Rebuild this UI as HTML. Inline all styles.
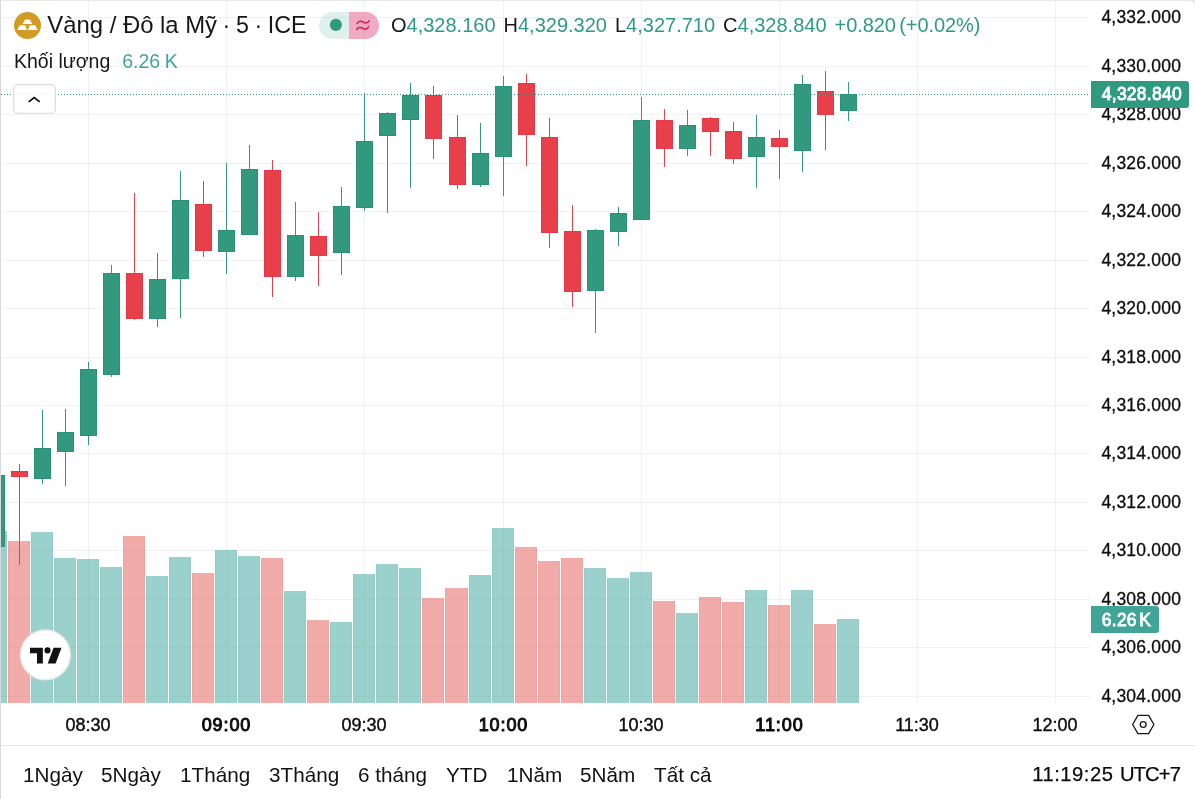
<!DOCTYPE html>
<html lang="vi"><head><meta charset="utf-8"><title>Vàng / Đô la Mỹ</title>
<style>
html,body{margin:0;padding:0;background:#ececed;}
body{width:1195px;height:799px;position:relative;overflow:hidden;font-family:"Liberation Sans",sans-serif;color:#131722;}
.chart{position:absolute;left:0;top:0;}
.page{position:absolute;left:1px;top:1px;width:1194px;height:798px;background:#fff;border-top-right-radius:6px;}
.bl{position:absolute;left:0;top:0;width:1px;height:799px;background:#d8d9dc;}
.bt{position:absolute;left:1px;top:0;width:1194px;height:1px;background:#e9e9ea;}
.pl{position:absolute;left:1080px;width:101.1px;text-align:right;font-size:17.5px;letter-spacing:0.2px;line-height:22px;height:22px;white-space:nowrap;color:#0c0c0c;-webkit-text-stroke:0.3px #0c0c0c;}
.tl{position:absolute;top:713.7px;width:80px;text-align:center;font-size:18px;line-height:22px;white-space:nowrap;color:#0c0c0c;-webkit-text-stroke:0.4px #0c0c0c;}
.tl.b{font-weight:normal;letter-spacing:0.9px;text-indent:0.9px;-webkit-text-stroke:1px #0c0c0c;}
.axisbg{position:absolute;left:1090px;top:8px;width:105px;height:737px;background:#fff;}
.tag{position:absolute;left:1091px;color:#fff;font-weight:normal;-webkit-text-stroke:0.8px #fff;letter-spacing:0.25px;font-size:17.5px;line-height:27px;height:27px;border-radius:0 3px 3px 0;white-space:nowrap;box-sizing:border-box;padding-left:10.8px;}
.sep{position:absolute;left:1px;top:745px;width:1194px;height:1px;background:#e6e6e8;}
.tb{position:absolute;top:763px;color:#111;font-size:20.7px;line-height:24px;white-space:nowrap;}
.hd{position:absolute;white-space:nowrap;}
.ts{font-size:20.2px;color:#0c0c0c;-webkit-text-stroke:0.25px #0c0c0c;}
.g{color:#2f9a85;}
</style></head><body>
<div class="page"></div>
<svg class="chart" width="1195" height="799" viewBox="0 0 1195 799" shape-rendering="crispEdges">
<rect x="1" y="17" width="1089" height="1" fill="#000" fill-opacity="0.052"/>
<rect x="1" y="66" width="1089" height="1" fill="#000" fill-opacity="0.052"/>
<rect x="1" y="114" width="1089" height="1" fill="#000" fill-opacity="0.052"/>
<rect x="1" y="163" width="1089" height="1" fill="#000" fill-opacity="0.052"/>
<rect x="1" y="211" width="1089" height="1" fill="#000" fill-opacity="0.052"/>
<rect x="1" y="260" width="1089" height="1" fill="#000" fill-opacity="0.052"/>
<rect x="1" y="308" width="1089" height="1" fill="#000" fill-opacity="0.052"/>
<rect x="1" y="357" width="1089" height="1" fill="#000" fill-opacity="0.052"/>
<rect x="1" y="405" width="1089" height="1" fill="#000" fill-opacity="0.052"/>
<rect x="1" y="453" width="1089" height="1" fill="#000" fill-opacity="0.052"/>
<rect x="1" y="502" width="1089" height="1" fill="#000" fill-opacity="0.052"/>
<rect x="1" y="550" width="1089" height="1" fill="#000" fill-opacity="0.052"/>
<rect x="1" y="599" width="1089" height="1" fill="#000" fill-opacity="0.052"/>
<rect x="1" y="647" width="1089" height="1" fill="#000" fill-opacity="0.052"/>
<rect x="1" y="696" width="1089" height="1" fill="#000" fill-opacity="0.052"/>
<rect x="88" y="1" width="1" height="702" fill="#000" fill-opacity="0.052"/>
<rect x="226" y="1" width="1" height="702" fill="#000" fill-opacity="0.052"/>
<rect x="364" y="1" width="1" height="702" fill="#000" fill-opacity="0.052"/>
<rect x="503" y="1" width="1" height="702" fill="#000" fill-opacity="0.052"/>
<rect x="641" y="1" width="1" height="702" fill="#000" fill-opacity="0.052"/>
<rect x="779" y="1" width="1" height="702" fill="#000" fill-opacity="0.052"/>
<rect x="917" y="1" width="1" height="702" fill="#000" fill-opacity="0.052"/>
<rect x="1055" y="1" width="1" height="702" fill="#000" fill-opacity="0.052"/>
<rect x="1" y="531" width="6" height="172" fill="#37a399" fill-opacity="0.5"/>
<rect x="6" y="531" width="1" height="172" fill="#1f8f84" fill-opacity="0.055"/>
<rect x="8" y="541" width="22" height="162" fill="#e35753" fill-opacity="0.5"/>
<rect x="8" y="541" width="1" height="162" fill="#d9393a" fill-opacity="0.055"/>
<rect x="29" y="541" width="1" height="162" fill="#d9393a" fill-opacity="0.055"/>
<rect x="31" y="532" width="22" height="171" fill="#37a399" fill-opacity="0.5"/>
<rect x="31" y="532" width="1" height="171" fill="#1f8f84" fill-opacity="0.055"/>
<rect x="52" y="532" width="1" height="171" fill="#1f8f84" fill-opacity="0.055"/>
<rect x="54" y="558" width="22" height="145" fill="#37a399" fill-opacity="0.5"/>
<rect x="54" y="558" width="1" height="145" fill="#1f8f84" fill-opacity="0.055"/>
<rect x="75" y="558" width="1" height="145" fill="#1f8f84" fill-opacity="0.055"/>
<rect x="77" y="559" width="22" height="144" fill="#37a399" fill-opacity="0.5"/>
<rect x="77" y="559" width="1" height="144" fill="#1f8f84" fill-opacity="0.055"/>
<rect x="98" y="559" width="1" height="144" fill="#1f8f84" fill-opacity="0.055"/>
<rect x="100" y="567" width="22" height="136" fill="#37a399" fill-opacity="0.5"/>
<rect x="100" y="567" width="1" height="136" fill="#1f8f84" fill-opacity="0.055"/>
<rect x="121" y="567" width="1" height="136" fill="#1f8f84" fill-opacity="0.055"/>
<rect x="123" y="536" width="22" height="167" fill="#e35753" fill-opacity="0.5"/>
<rect x="123" y="536" width="1" height="167" fill="#d9393a" fill-opacity="0.055"/>
<rect x="144" y="536" width="1" height="167" fill="#d9393a" fill-opacity="0.055"/>
<rect x="146" y="576" width="22" height="127" fill="#37a399" fill-opacity="0.5"/>
<rect x="146" y="576" width="1" height="127" fill="#1f8f84" fill-opacity="0.055"/>
<rect x="167" y="576" width="1" height="127" fill="#1f8f84" fill-opacity="0.055"/>
<rect x="169" y="557" width="22" height="146" fill="#37a399" fill-opacity="0.5"/>
<rect x="169" y="557" width="1" height="146" fill="#1f8f84" fill-opacity="0.055"/>
<rect x="190" y="557" width="1" height="146" fill="#1f8f84" fill-opacity="0.055"/>
<rect x="192" y="573" width="22" height="130" fill="#e35753" fill-opacity="0.5"/>
<rect x="192" y="573" width="1" height="130" fill="#d9393a" fill-opacity="0.055"/>
<rect x="213" y="573" width="1" height="130" fill="#d9393a" fill-opacity="0.055"/>
<rect x="215" y="550" width="22" height="153" fill="#37a399" fill-opacity="0.5"/>
<rect x="215" y="550" width="1" height="153" fill="#1f8f84" fill-opacity="0.055"/>
<rect x="236" y="550" width="1" height="153" fill="#1f8f84" fill-opacity="0.055"/>
<rect x="238" y="556" width="22" height="147" fill="#37a399" fill-opacity="0.5"/>
<rect x="238" y="556" width="1" height="147" fill="#1f8f84" fill-opacity="0.055"/>
<rect x="259" y="556" width="1" height="147" fill="#1f8f84" fill-opacity="0.055"/>
<rect x="261" y="558" width="22" height="145" fill="#e35753" fill-opacity="0.5"/>
<rect x="261" y="558" width="1" height="145" fill="#d9393a" fill-opacity="0.055"/>
<rect x="282" y="558" width="1" height="145" fill="#d9393a" fill-opacity="0.055"/>
<rect x="284" y="591" width="22" height="112" fill="#37a399" fill-opacity="0.5"/>
<rect x="284" y="591" width="1" height="112" fill="#1f8f84" fill-opacity="0.055"/>
<rect x="305" y="591" width="1" height="112" fill="#1f8f84" fill-opacity="0.055"/>
<rect x="307" y="620" width="22" height="83" fill="#e35753" fill-opacity="0.5"/>
<rect x="307" y="620" width="1" height="83" fill="#d9393a" fill-opacity="0.055"/>
<rect x="328" y="620" width="1" height="83" fill="#d9393a" fill-opacity="0.055"/>
<rect x="330" y="622" width="22" height="81" fill="#37a399" fill-opacity="0.5"/>
<rect x="330" y="622" width="1" height="81" fill="#1f8f84" fill-opacity="0.055"/>
<rect x="351" y="622" width="1" height="81" fill="#1f8f84" fill-opacity="0.055"/>
<rect x="353" y="574" width="22" height="129" fill="#37a399" fill-opacity="0.5"/>
<rect x="353" y="574" width="1" height="129" fill="#1f8f84" fill-opacity="0.055"/>
<rect x="374" y="574" width="1" height="129" fill="#1f8f84" fill-opacity="0.055"/>
<rect x="376" y="564" width="22" height="139" fill="#37a399" fill-opacity="0.5"/>
<rect x="376" y="564" width="1" height="139" fill="#1f8f84" fill-opacity="0.055"/>
<rect x="397" y="564" width="1" height="139" fill="#1f8f84" fill-opacity="0.055"/>
<rect x="399" y="568" width="22" height="135" fill="#37a399" fill-opacity="0.5"/>
<rect x="399" y="568" width="1" height="135" fill="#1f8f84" fill-opacity="0.055"/>
<rect x="420" y="568" width="1" height="135" fill="#1f8f84" fill-opacity="0.055"/>
<rect x="422" y="598" width="22" height="105" fill="#e35753" fill-opacity="0.5"/>
<rect x="422" y="598" width="1" height="105" fill="#d9393a" fill-opacity="0.055"/>
<rect x="443" y="598" width="1" height="105" fill="#d9393a" fill-opacity="0.055"/>
<rect x="445" y="588" width="23" height="115" fill="#e35753" fill-opacity="0.5"/>
<rect x="445" y="588" width="1" height="115" fill="#d9393a" fill-opacity="0.055"/>
<rect x="467" y="588" width="1" height="115" fill="#d9393a" fill-opacity="0.055"/>
<rect x="469" y="575" width="22" height="128" fill="#37a399" fill-opacity="0.5"/>
<rect x="469" y="575" width="1" height="128" fill="#1f8f84" fill-opacity="0.055"/>
<rect x="490" y="575" width="1" height="128" fill="#1f8f84" fill-opacity="0.055"/>
<rect x="492" y="528" width="22" height="175" fill="#37a399" fill-opacity="0.5"/>
<rect x="492" y="528" width="1" height="175" fill="#1f8f84" fill-opacity="0.055"/>
<rect x="513" y="528" width="1" height="175" fill="#1f8f84" fill-opacity="0.055"/>
<rect x="515" y="547" width="22" height="156" fill="#e35753" fill-opacity="0.5"/>
<rect x="515" y="547" width="1" height="156" fill="#d9393a" fill-opacity="0.055"/>
<rect x="536" y="547" width="1" height="156" fill="#d9393a" fill-opacity="0.055"/>
<rect x="538" y="561" width="22" height="142" fill="#e35753" fill-opacity="0.5"/>
<rect x="538" y="561" width="1" height="142" fill="#d9393a" fill-opacity="0.055"/>
<rect x="559" y="561" width="1" height="142" fill="#d9393a" fill-opacity="0.055"/>
<rect x="561" y="558" width="22" height="145" fill="#e35753" fill-opacity="0.5"/>
<rect x="561" y="558" width="1" height="145" fill="#d9393a" fill-opacity="0.055"/>
<rect x="582" y="558" width="1" height="145" fill="#d9393a" fill-opacity="0.055"/>
<rect x="584" y="568" width="22" height="135" fill="#37a399" fill-opacity="0.5"/>
<rect x="584" y="568" width="1" height="135" fill="#1f8f84" fill-opacity="0.055"/>
<rect x="605" y="568" width="1" height="135" fill="#1f8f84" fill-opacity="0.055"/>
<rect x="607" y="578" width="22" height="125" fill="#37a399" fill-opacity="0.5"/>
<rect x="607" y="578" width="1" height="125" fill="#1f8f84" fill-opacity="0.055"/>
<rect x="628" y="578" width="1" height="125" fill="#1f8f84" fill-opacity="0.055"/>
<rect x="630" y="572" width="22" height="131" fill="#37a399" fill-opacity="0.5"/>
<rect x="630" y="572" width="1" height="131" fill="#1f8f84" fill-opacity="0.055"/>
<rect x="651" y="572" width="1" height="131" fill="#1f8f84" fill-opacity="0.055"/>
<rect x="653" y="601" width="22" height="102" fill="#e35753" fill-opacity="0.5"/>
<rect x="653" y="601" width="1" height="102" fill="#d9393a" fill-opacity="0.055"/>
<rect x="674" y="601" width="1" height="102" fill="#d9393a" fill-opacity="0.055"/>
<rect x="676" y="613" width="22" height="90" fill="#37a399" fill-opacity="0.5"/>
<rect x="676" y="613" width="1" height="90" fill="#1f8f84" fill-opacity="0.055"/>
<rect x="697" y="613" width="1" height="90" fill="#1f8f84" fill-opacity="0.055"/>
<rect x="699" y="597" width="22" height="106" fill="#e35753" fill-opacity="0.5"/>
<rect x="699" y="597" width="1" height="106" fill="#d9393a" fill-opacity="0.055"/>
<rect x="720" y="597" width="1" height="106" fill="#d9393a" fill-opacity="0.055"/>
<rect x="722" y="602" width="22" height="101" fill="#e35753" fill-opacity="0.5"/>
<rect x="722" y="602" width="1" height="101" fill="#d9393a" fill-opacity="0.055"/>
<rect x="743" y="602" width="1" height="101" fill="#d9393a" fill-opacity="0.055"/>
<rect x="745" y="590" width="22" height="113" fill="#37a399" fill-opacity="0.5"/>
<rect x="745" y="590" width="1" height="113" fill="#1f8f84" fill-opacity="0.055"/>
<rect x="766" y="590" width="1" height="113" fill="#1f8f84" fill-opacity="0.055"/>
<rect x="768" y="605" width="22" height="98" fill="#e35753" fill-opacity="0.5"/>
<rect x="768" y="605" width="1" height="98" fill="#d9393a" fill-opacity="0.055"/>
<rect x="789" y="605" width="1" height="98" fill="#d9393a" fill-opacity="0.055"/>
<rect x="791" y="590" width="22" height="113" fill="#37a399" fill-opacity="0.5"/>
<rect x="791" y="590" width="1" height="113" fill="#1f8f84" fill-opacity="0.055"/>
<rect x="812" y="590" width="1" height="113" fill="#1f8f84" fill-opacity="0.055"/>
<rect x="814" y="624" width="22" height="79" fill="#e35753" fill-opacity="0.5"/>
<rect x="814" y="624" width="1" height="79" fill="#d9393a" fill-opacity="0.055"/>
<rect x="835" y="624" width="1" height="79" fill="#d9393a" fill-opacity="0.055"/>
<rect x="837" y="619" width="22" height="84" fill="#37a399" fill-opacity="0.5"/>
<rect x="837" y="619" width="1" height="84" fill="#1f8f84" fill-opacity="0.055"/>
<rect x="858" y="619" width="1" height="84" fill="#1f8f84" fill-opacity="0.055"/>
<rect x="1" y="475" width="4" height="72" fill="#279278"/>
<rect x="1" y="476" width="3" height="70" fill="#32997f"/>
<rect x="19" y="464" width="1" height="101" fill="#e7404a"/>
<rect x="11" y="471" width="17" height="6" fill="#e43844"/>
<rect x="12" y="472" width="15" height="4" fill="#e7404a"/>
<rect x="42" y="410" width="1" height="74" fill="#32997f"/>
<rect x="34" y="448" width="17" height="31" fill="#279278"/>
<rect x="35" y="449" width="15" height="29" fill="#32997f"/>
<rect x="65" y="409" width="1" height="77" fill="#32997f"/>
<rect x="57" y="432" width="17" height="20" fill="#279278"/>
<rect x="58" y="433" width="15" height="18" fill="#32997f"/>
<rect x="88" y="362" width="1" height="83" fill="#32997f"/>
<rect x="80" y="369" width="17" height="67" fill="#279278"/>
<rect x="81" y="370" width="15" height="65" fill="#32997f"/>
<rect x="111" y="265" width="1" height="112" fill="#32997f"/>
<rect x="103" y="273" width="17" height="102" fill="#279278"/>
<rect x="104" y="274" width="15" height="100" fill="#32997f"/>
<rect x="134" y="193" width="1" height="127" fill="#e7404a"/>
<rect x="126" y="273" width="17" height="46" fill="#e43844"/>
<rect x="127" y="274" width="15" height="44" fill="#e7404a"/>
<rect x="157" y="253" width="1" height="74" fill="#32997f"/>
<rect x="149" y="279" width="17" height="40" fill="#279278"/>
<rect x="150" y="280" width="15" height="38" fill="#32997f"/>
<rect x="180" y="171" width="1" height="147" fill="#32997f"/>
<rect x="172" y="200" width="17" height="79" fill="#279278"/>
<rect x="173" y="201" width="15" height="77" fill="#32997f"/>
<rect x="203" y="181" width="1" height="76" fill="#e7404a"/>
<rect x="195" y="204" width="17" height="47" fill="#e43844"/>
<rect x="196" y="205" width="15" height="45" fill="#e7404a"/>
<rect x="226" y="163" width="1" height="111" fill="#32997f"/>
<rect x="218" y="230" width="17" height="22" fill="#279278"/>
<rect x="219" y="231" width="15" height="20" fill="#32997f"/>
<rect x="249" y="145" width="1" height="90" fill="#32997f"/>
<rect x="241" y="169" width="17" height="66" fill="#279278"/>
<rect x="242" y="170" width="15" height="64" fill="#32997f"/>
<rect x="272" y="160" width="1" height="137" fill="#e7404a"/>
<rect x="264" y="170" width="17" height="107" fill="#e43844"/>
<rect x="265" y="171" width="15" height="105" fill="#e7404a"/>
<rect x="295" y="202" width="1" height="79" fill="#32997f"/>
<rect x="287" y="235" width="17" height="42" fill="#279278"/>
<rect x="288" y="236" width="15" height="40" fill="#32997f"/>
<rect x="318" y="212" width="1" height="74" fill="#e7404a"/>
<rect x="310" y="236" width="17" height="20" fill="#e43844"/>
<rect x="311" y="237" width="15" height="18" fill="#e7404a"/>
<rect x="341" y="187" width="1" height="88" fill="#32997f"/>
<rect x="333" y="206" width="17" height="47" fill="#279278"/>
<rect x="334" y="207" width="15" height="45" fill="#32997f"/>
<rect x="364" y="93" width="1" height="118" fill="#32997f"/>
<rect x="356" y="141" width="17" height="67" fill="#279278"/>
<rect x="357" y="142" width="15" height="65" fill="#32997f"/>
<rect x="387" y="112" width="1" height="101" fill="#32997f"/>
<rect x="379" y="113" width="17" height="23" fill="#279278"/>
<rect x="380" y="114" width="15" height="21" fill="#32997f"/>
<rect x="410" y="83" width="1" height="105" fill="#32997f"/>
<rect x="402" y="95" width="17" height="25" fill="#279278"/>
<rect x="403" y="96" width="15" height="23" fill="#32997f"/>
<rect x="433" y="86" width="1" height="73" fill="#e7404a"/>
<rect x="425" y="95" width="17" height="44" fill="#e43844"/>
<rect x="426" y="96" width="15" height="42" fill="#e7404a"/>
<rect x="457" y="115" width="1" height="74" fill="#e7404a"/>
<rect x="449" y="137" width="17" height="48" fill="#e43844"/>
<rect x="450" y="138" width="15" height="46" fill="#e7404a"/>
<rect x="480" y="123" width="1" height="64" fill="#32997f"/>
<rect x="472" y="153" width="17" height="32" fill="#279278"/>
<rect x="473" y="154" width="15" height="30" fill="#32997f"/>
<rect x="503" y="76" width="1" height="120" fill="#32997f"/>
<rect x="495" y="86" width="17" height="71" fill="#279278"/>
<rect x="496" y="87" width="15" height="69" fill="#32997f"/>
<rect x="526" y="74" width="1" height="92" fill="#e7404a"/>
<rect x="518" y="83" width="17" height="52" fill="#e43844"/>
<rect x="519" y="84" width="15" height="50" fill="#e7404a"/>
<rect x="549" y="118" width="1" height="130" fill="#e7404a"/>
<rect x="541" y="137" width="17" height="96" fill="#e43844"/>
<rect x="542" y="138" width="15" height="94" fill="#e7404a"/>
<rect x="572" y="205" width="1" height="102" fill="#e7404a"/>
<rect x="564" y="231" width="17" height="61" fill="#e43844"/>
<rect x="565" y="232" width="15" height="59" fill="#e7404a"/>
<rect x="595" y="229" width="1" height="104" fill="#32997f"/>
<rect x="587" y="230" width="17" height="61" fill="#279278"/>
<rect x="588" y="231" width="15" height="59" fill="#32997f"/>
<rect x="618" y="207" width="1" height="39" fill="#32997f"/>
<rect x="610" y="213" width="17" height="19" fill="#279278"/>
<rect x="611" y="214" width="15" height="17" fill="#32997f"/>
<rect x="641" y="97" width="1" height="123" fill="#32997f"/>
<rect x="633" y="120" width="17" height="100" fill="#279278"/>
<rect x="634" y="121" width="15" height="98" fill="#32997f"/>
<rect x="664" y="109" width="1" height="58" fill="#e7404a"/>
<rect x="656" y="120" width="17" height="29" fill="#e43844"/>
<rect x="657" y="121" width="15" height="27" fill="#e7404a"/>
<rect x="687" y="110" width="1" height="46" fill="#32997f"/>
<rect x="679" y="125" width="17" height="24" fill="#279278"/>
<rect x="680" y="126" width="15" height="22" fill="#32997f"/>
<rect x="710" y="117" width="1" height="39" fill="#e7404a"/>
<rect x="702" y="118" width="17" height="14" fill="#e43844"/>
<rect x="703" y="119" width="15" height="12" fill="#e7404a"/>
<rect x="733" y="122" width="1" height="42" fill="#e7404a"/>
<rect x="725" y="131" width="17" height="28" fill="#e43844"/>
<rect x="726" y="132" width="15" height="26" fill="#e7404a"/>
<rect x="756" y="115" width="1" height="73" fill="#32997f"/>
<rect x="748" y="137" width="17" height="20" fill="#279278"/>
<rect x="749" y="138" width="15" height="18" fill="#32997f"/>
<rect x="779" y="130" width="1" height="49" fill="#e7404a"/>
<rect x="771" y="138" width="17" height="9" fill="#e43844"/>
<rect x="772" y="139" width="15" height="7" fill="#e7404a"/>
<rect x="802" y="75" width="1" height="97" fill="#32997f"/>
<rect x="794" y="84" width="17" height="67" fill="#279278"/>
<rect x="795" y="85" width="15" height="65" fill="#32997f"/>
<rect x="825" y="71" width="1" height="79" fill="#e7404a"/>
<rect x="817" y="91" width="17" height="24" fill="#e43844"/>
<rect x="818" y="92" width="15" height="22" fill="#e7404a"/>
<rect x="848" y="82" width="1" height="39" fill="#32997f"/>
<rect x="840" y="94" width="17" height="17" fill="#279278"/>
<rect x="841" y="95" width="15" height="15" fill="#32997f"/>
<line x1="1" y1="94.5" x2="1090" y2="94.5" stroke="#2f987e" stroke-width="1" stroke-dasharray="1 2"/>
</svg>
<div class="axisbg"></div>
<div class="pl" style="top:6.1px">4,332.000</div>
<div class="pl" style="top:55.1px">4,330.000</div>
<div class="pl" style="top:103.1px">4,328.000</div>
<div class="pl" style="top:152.1px">4,326.000</div>
<div class="pl" style="top:200.1px">4,324.000</div>
<div class="pl" style="top:249.1px">4,322.000</div>
<div class="pl" style="top:297.1px">4,320.000</div>
<div class="pl" style="top:346.1px">4,318.000</div>
<div class="pl" style="top:394.1px">4,316.000</div>
<div class="pl" style="top:442.1px">4,314.000</div>
<div class="pl" style="top:491.1px">4,312.000</div>
<div class="pl" style="top:539.1px">4,310.000</div>
<div class="pl" style="top:588.1px">4,308.000</div>
<div class="pl" style="top:636.1px">4,306.000</div>
<div class="pl" style="top:685.1px">4,304.000</div>
<div class="tag" style="top:81px;width:98px;background:#2f9a80;">4,328.840</div>
<div class="tag" style="top:606px;width:67.7px;background:#40a597;line-height:28.4px;">6.26<span style="margin-left:2.3px">K</span></div>
<div class="tl" style="left:48px">08:30</div>
<div class="tl b" style="left:186px">09:00</div>
<div class="tl" style="left:324px">09:30</div>
<div class="tl b" style="left:463px">10:00</div>
<div class="tl" style="left:601px">10:30</div>
<div class="tl b" style="left:739px">11:00</div>
<div class="tl" style="left:877px">11:30</div>
<div class="tl" style="left:1015px">12:00</div>
<svg style="position:absolute;left:1129px;top:711px" width="28" height="28" viewBox="0 0 28 28"><path d="M3.6 13.5 L8.9 4.4 H19.6 L24.9 13.5 L19.6 22.6 H8.9 Z" fill="none" stroke="#131722" stroke-width="1.3" stroke-linejoin="round"/><circle cx="14.2" cy="13.5" r="2.9" fill="none" stroke="#131722" stroke-width="1.3"/></svg>
<div class="sep"></div>
<div class="tb" style="left:23px">1Ngày</div>
<div class="tb" style="left:101px">5Ngày</div>
<div class="tb" style="left:180px">1Tháng</div>
<div class="tb" style="left:269px">3Tháng</div>
<div class="tb" style="left:358px">6 tháng</div>
<div class="tb" style="left:446px">YTD</div>
<div class="tb" style="left:507px">1Năm</div>
<div class="tb" style="left:580px">5Năm</div>
<div class="tb" style="left:654px">Tất cả</div>
<div class="tb ts" style="left:1032.3px;top:762.3px"><span style="letter-spacing:0.5px">11:19:25</span> <span style="letter-spacing:-0.85px;margin-left:0.9px">UTC+7</span></div>

<!-- header -->
<svg style="position:absolute;left:13px;top:11px" width="29" height="29" viewBox="0 0 29 29"><circle cx="14.5" cy="14.5" r="13.5" fill="#d19b25"/><path d="M12.1 8.4H16.9L19.4 12.9H9.6Z M6.9 14.3H12.1L14.2 18.9H4.2Z M16.9 14.3H22.1L24.8 18.9H14.8Z" fill="#fff"/></svg>
<div class="hd" style="left:47.3px;top:11.3px;font-size:23.27px;line-height:27px;color:#15151a;"><span style="font-size:23.87px">Vàng / Đô la Mỹ</span><span style="word-spacing:-0.9px"> · 5 · ICE</span></div>
<svg style="position:absolute;left:310px;top:5px" width="80" height="40" viewBox="310 5 80 40"><defs><clipPath id="pc"><rect x="319" y="12" width="60" height="27" rx="13.5"/></clipPath></defs><g clip-path="url(#pc)"><rect x="319" y="12" width="30" height="27" fill="#2f9a80" fill-opacity="0.15"/><rect x="349" y="12" width="30" height="27" fill="#e0507f" fill-opacity="0.48"/></g><circle cx="335.9" cy="24.9" r="6.05" fill="#2f9a80"/><g fill="none" stroke="#d42a62" stroke-width="1.75" stroke-linecap="round"><path d="M357.2 23.4C358.6 20.6 361 20.9 363 22.1S367.6 23.6 369 20.8"/><path d="M356.8 29.5C358.2 26.7 360.6 27 362.6 28.2S367.2 29.7 368.6 26.9"/></g></svg>
<div class="hd" style="left:391px;top:12.6px;font-size:20px;line-height:24px;color:#19191d;">O<span class="g">4,328.160</span><span style="margin-left:8px">H</span><span class="g">4,329.320</span><span style="margin-left:8px">L</span><span class="g">4,327.710</span><span style="margin-left:8px">C</span><span class="g">4,328.840</span><span class="g" style="margin-left:8px;word-spacing:-2px;letter-spacing:-0.08px">+0.820 (+0.02%)</span></div>
<div class="hd" style="left:14px;top:49.6px;font-size:19.5px;line-height:22px;color:#15151a;">Khối lượng<span style="color:#3fa597;margin-left:11.9px">6.26<span style="margin-left:4.5px">K</span></span></div>
<svg style="position:absolute;left:5px;top:75px" width="70" height="45" viewBox="5 75 70 45"><rect x="13.75" y="84.6" width="41.6" height="28.7" rx="4" fill="#fff" fill-opacity="0.86" stroke="#d9d9db" stroke-width="1.1"/><path d="M28.7 101.8L34.2 97.5L39.7 101.8" fill="none" stroke="#0c0c0c" stroke-width="1.7"/></svg>
<!-- TV logo -->
<svg style="position:absolute;left:0;top:600px" width="100" height="100" viewBox="0 600 100 100"><circle cx="45.4" cy="654.9" r="24.9" fill="#fff" stroke="#e9e9e9" stroke-width="1.4"/><path d="M29.98 647.8H42.85V663.6H37V653.3H29.98Z M53.6 647.8H61.5L55.6 663.6H47.7Z" fill="#111"/><circle cx="47.5" cy="650.4" r="3.05" fill="#111"/></svg>
<div class="bl"></div><div class="bt"></div>
</body></html>
